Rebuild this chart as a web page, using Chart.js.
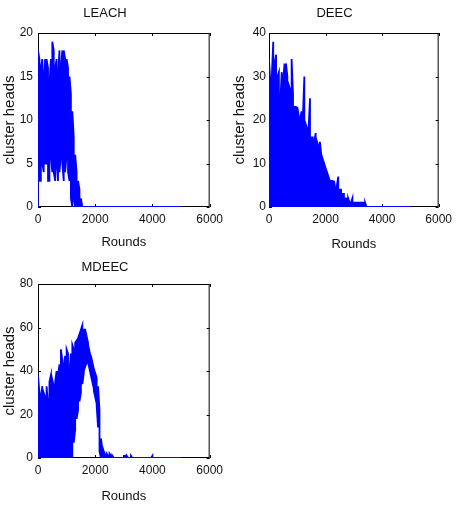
<!DOCTYPE html>
<html>
<head>
<meta charset="utf-8">
<script src="https://cdn.jsdelivr.net/npm/chart.js@4.4.0/dist/chart.umd.min.js"></script>
<style>
  html, body { margin: 0; padding: 0; background: #fff; }
  body { width: 457px; height: 511px; position: relative; overflow: hidden; }
  canvas { position: absolute; }
</style>
</head>
<body>
<canvas id="chartLeach" width="228" height="255" style="left:0;top:0"></canvas>
<canvas id="chartDeec" width="229" height="255" style="left:228px;top:0"></canvas>
<canvas id="chartMdeec" width="228" height="256" style="left:0;top:255px"></canvas>
<script>
// Datos: ronda, maximo y minimo de cluster heads en cada tramo de 50 rondas
const leachRounds = [0, 50, 100, 150, 200, 250, 300, 350, 400, 450, 500, 550, 600, 650, 700, 750, 800, 850, 900, 950,
    1000, 1050, 1100, 1150, 1200, 1250, 1300, 1350, 1400, 1450, 1500, 1550, 5000];
const leachHigh = [18, 17, 16, 17, 15, 17, 17, 16, 14, 17, 19, 18, 16, 17, 15, 18, 16, 18, 18, 17,
    17, 16, 15, 13, 11, 8, 6, 4, 3, 2, 1, 0, 0];
const leachLow = [0, 3, 3, 5, 4, 5, 5, 3, 3, 6, 4, 4, 3, 5, 3, 4, 6, 5, 3, 4,
    6, 4, 3, 1, 0, 1, 0, 0, 0, 0, 0, 0, 0];

const deecRounds = [0, 50, 100, 150, 200, 250, 300, 350, 400, 450, 500, 550, 600, 650, 700, 750, 800, 850, 900, 950,
    1000, 1050, 1100, 1150, 1200, 1250, 1300, 1350, 1400, 1450, 1500, 1550, 1600, 1650, 1700, 1750, 1800, 1850, 1900, 1950,
    2000, 2050, 2100, 2150, 2200, 2250, 2300, 2350, 2400, 2450, 2500, 2550, 2600, 2650, 2700, 2750, 2800, 2850, 2900, 2950,
    3000, 3050, 3100, 3150, 3200, 3250, 3300, 3350, 3400, 3450, 5000];
const deecHigh = [34, 28, 30, 38, 33, 35, 30, 31, 24, 31, 29, 33, 33, 30, 28, 27, 34, 26, 23, 23,
    23, 21, 20, 22, 21, 30, 19, 18, 18, 25, 16, 16, 15, 17, 15, 14, 15, 12, 11, 10,
    9, 8, 7, 6, 6, 6, 6, 4, 5, 7, 4, 4, 3, 3, 2, 2, 2, 1, 1, 2,
    1, 1, 1, 1, 1, 1, 1, 1, 1, 0, 0];
const deecLow = [0, 0, 0, 0, 0, 0, 0, 0, 0, 0, 0, 0, 0, 0, 0, 0, 0, 0, 0, 0,
    0, 0, 0, 0, 0, 0, 0, 0, 0, 0, 0, 0, 0, 0, 0, 0, 0, 0, 0, 0,
    0, 0, 0, 0, 0, 0, 0, 0, 0, 0, 0, 0, 0, 0, 0, 0, 0, 0, 0, 0,
    0, 0, 0, 0, 0, 0, 0, 0, 0, 0, 0];

const mdeecRounds = [0, 50, 100, 150, 200, 250, 300, 350, 400, 450, 500, 550, 600, 650, 700, 750, 800, 850, 900, 950,
    1000, 1050, 1100, 1150, 1200, 1250, 1300, 1350, 1400, 1450, 1500, 1550, 1600, 1650, 1700, 1750, 1800, 1850, 1900, 1950,
    2000, 2050, 2100, 2150, 2200, 2250, 2300, 2350, 2400, 2450, 2500, 2550, 2600, 2650,
    3000, 3050, 3100, 3150, 3250, 3300, 3950, 4000, 4050, 5000];
const mdeecHigh = [38, 30, 28, 33, 30, 28, 33, 25, 35, 38, 36, 33, 35, 40, 38, 43, 50, 45, 42, 47,
    50, 48, 40, 48, 52, 50, 53, 54, 55, 57, 59, 61, 59, 59, 56, 53, 49, 46, 44, 41,
    39, 37, 33, 22, 9, 4, 3, 1, 2, 1, 2, 1, 1, 0,
    1, 1, 1, 0, 1, 0, 0, 1, 0, 0];
const mdeecLow = [0, 0, 0, 0, 0, 0, 0, 0, 0, 0, 0, 0, 0, 0, 0, 0, 0, 0, 0, 0,
    0, 0, 0, 0, 0, 7, 13, 18, 22, 26, 30, 34, 39, 42, 44, 44, 41, 38, 35, 31,
    28, 24, 14, 3, 0, 0, 0, 0, 0, 0, 0, 0, 0, 0,
    0, 0, 0, 0, 0, 0, 0, 0, 0, 0];

// Marcas de eje
const xTicks = [0, 2000, 4000, 6000];

const fuente = "'Liberation Sans', Arial, sans-serif";

// Une maximo y minimo de cada tramo en una sola linea en zigzag
function armarPuntos(rounds, high, low) {
    const puntos = [];
    rounds.forEach((r, i) => {
        if (i % 2 === 0) {
            puntos.push({ x: r, y: low[i] }, { x: r, y: high[i] });
        } else {
            puntos.push({ x: r, y: high[i] }, { x: r, y: low[i] });
        }
    });
    return puntos;
}

// Caja negra con marcas hacia adentro, estilo MATLAB
const marcoMatlab = {
    id: 'marcoMatlab',
    beforeDatasetsDraw(chart) {
        const ctx = chart.ctx;
        const a = chart.chartArea;
        const x = chart.scales.x;
        const y = chart.scales.y;
        ctx.save();
        ctx.strokeStyle = '#000';
        ctx.lineWidth = 1;
        ctx.strokeRect(a.left + 0.5, a.top + 0.5, a.right - a.left - 1, a.bottom - a.top - 1);
        ctx.beginPath();
        x.ticks.forEach(t => {
            const px = Math.round(x.getPixelForValue(t.value)) + 0.5;
            ctx.moveTo(px, a.bottom); ctx.lineTo(px, a.bottom - 3);
            ctx.moveTo(px, a.top); ctx.lineTo(px, a.top + 3);
        });
        y.ticks.forEach(t => {
            const py = Math.round(y.getPixelForValue(t.value)) + 0.5;
            ctx.moveTo(a.left, py); ctx.lineTo(a.left + 3, py);
            ctx.moveTo(a.right, py); ctx.lineTo(a.right - 3, py);
        });
        ctx.stroke();
        ctx.restore();
    }
};

function crearGrafica(id, titulo, rounds, high, low, yMax, yStep, m) {
    const ctx = document.getElementById(id).getContext('2d');
    new Chart(ctx, {
        type: 'line',
        data: {
            datasets: [{
                data: armarPuntos(rounds, high, low),
                borderColor: '#0000ff',
                borderWidth: 1.8,
                pointRadius: 0,
                tension: 0,
                fill: false
            }]
        },
        options: {
            responsive: false,
            animation: false,
            events: [],
            layout: { padding: { left: 0, right: m.padRight, top: 0, bottom: 0 } },
            plugins: {
                legend: { display: false },
                tooltip: { enabled: false },
                title: {
                    display: true,
                    text: titulo,
                    color: '#111',
                    font: { family: fuente, size: 13, weight: 'normal' },
                    padding: { top: m.titleTop, bottom: m.titleBottom }
                }
            },
            scales: {
                x: {
                    type: 'linear',
                    min: 0,
                    max: 6000,
                    afterBuildTicks: (scale) => { scale.ticks = xTicks.map(v => ({ value: v })); },
                    ticks: { color: '#111', padding: 5, maxRotation: 0, autoSkip: false,
                        callback: (v) => String(v),
                        font: { family: fuente, size: 12 } },
                    grid: { display: false, drawTicks: false },
                    border: { display: false },
                    title: { display: true, text: 'Rounds', color: '#111',
                        font: { family: fuente, size: 13 },
                        padding: { top: 0, bottom: m.xTitleBottom } },
                    afterFit: (scale) => { scale.height = m.xHeight; }
                },
                y: {
                    type: 'linear',
                    min: 0,
                    max: yMax,
                    ticks: { stepSize: yStep, color: '#111', padding: m.yTickPad,
                        callback: (v) => String(v),
                        font: { family: fuente, size: 12 } },
                    grid: { display: false, drawTicks: false },
                    border: { display: false },
                    title: { display: true, text: 'cluster heads', color: '#111',
                        font: { family: fuente, size: 15 },
                        padding: { top: m.yTitleTop, bottom: 0 } },
                    afterFit: (scale) => { scale.width = m.yWidth; }
                }
            }
        },
        plugins: [marcoMatlab]
    });
}

crearGrafica('chartLeach', 'LEACH', leachRounds, leachHigh, leachLow, 20, 5,
    { padRight: 18, titleTop: 6, titleBottom: 11.4, xHeight: 48, xTitleBottom: 5, yWidth: 38, yTickPad: 5, yTitleTop: 1 });
crearGrafica('chartDeec', 'DEEC', deecRounds, deecHigh, deecLow, 40, 10,
    { padRight: 16, titleTop: 6, titleBottom: 11.4, xHeight: 48, xTitleBottom: 3, yWidth: 41, yTickPad: 3, yTitleTop: 2.7 });
crearGrafica('chartMdeec', 'MDEEC', mdeecRounds, mdeecHigh, mdeecLow, 80, 20,
    { padRight: 18, titleTop: 4.6, titleBottom: 8.8, xHeight: 53, xTitleBottom: 7, yWidth: 38, yTickPad: 5, yTitleTop: 1 });
</script>
</body>
</html>
